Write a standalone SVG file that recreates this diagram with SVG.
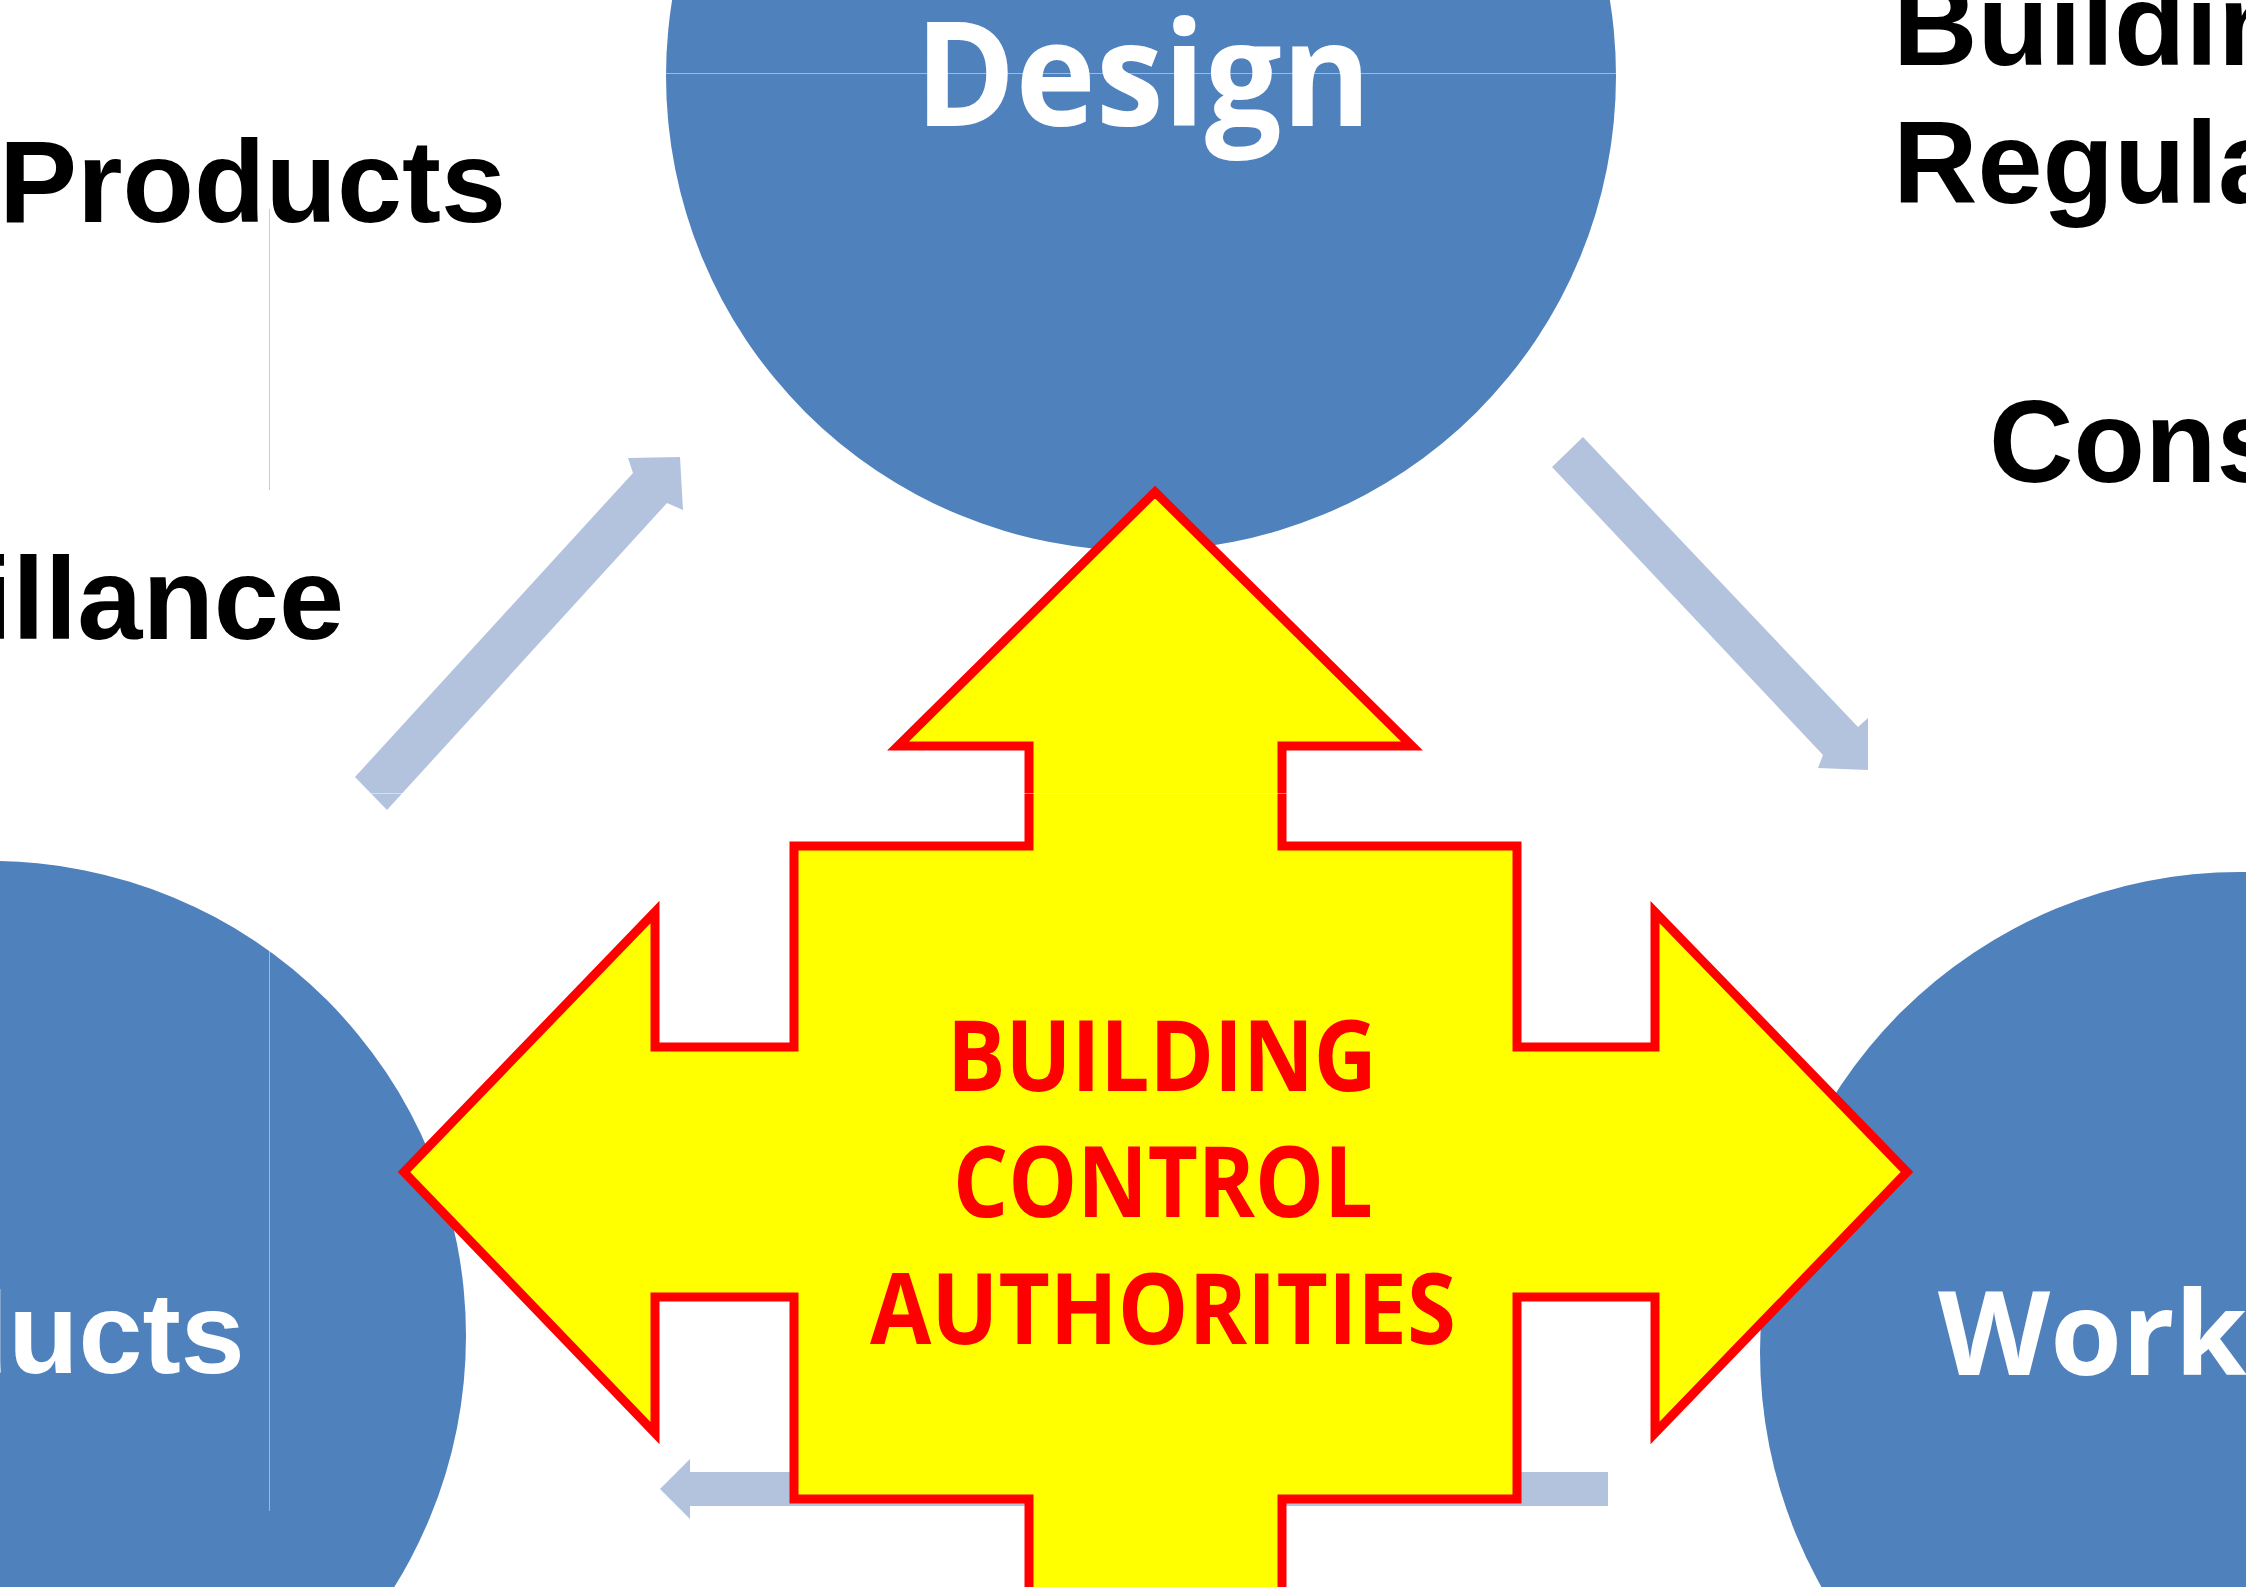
<svg xmlns="http://www.w3.org/2000/svg" width="2246" height="1587" viewBox="0 0 2246 1587">
  <defs>
    <style>
      .node { fill: #4F81BD; }
      .flow { fill: #B3C3DD; }
      .lbl { font-family: "Liberation Sans", Arial, sans-serif; font-weight: bold; font-size: 117px; fill: #000000; }
      .inlbl { font-family: "Open Sans", "Noto Sans", sans-serif; font-weight: bold; fill: #FFFFFF; }
      .inarial { font-family: "Liberation Sans", Arial, sans-serif; font-weight: bold; font-size: 115px; fill: #FFFFFF; }
      .cross { fill: #FFFF00; stroke: #FF0000; stroke-width: 9; stroke-linejoin: miter; stroke-miterlimit: 10; }
      .bca { font-family: "Open Sans", "Noto Sans", sans-serif; font-weight: bold; font-size: 98px; fill: #FF0000; }
      .seam { stroke: #FFFFFF; stroke-opacity: 0.45; stroke-width: 1; }
    </style>
  </defs>

  <rect x="0" y="0" width="2246" height="1587" fill="#FFFFFF"/>

  <g id="node-design">
    <circle class="node" cx="1141" cy="76" r="475"/>
    <text class="inlbl" x="915" y="126" font-size="146" textLength="456" lengthAdjust="spacingAndGlyphs">Design</text>
  </g>

  <g id="node-products">
    <circle class="node" cx="-9" cy="1336" r="475"/>
    <text class="inarial" x="-62" y="1373">ducts</text>
  </g>

  <g id="node-works">
    <circle class="node" cx="2240" cy="1352" r="480"/>
    <text class="inlbl" x="1938" y="1375" font-size="116">Work</text>
  </g>

  <g id="connectors">
    <polygon id="arrow-products-design" class="flow" points="355,777 633,473 628,458 680,457 683,510 667,503 387,810"/>
    <polygon id="arrow-design-works" class="flow" points="1583,437 1858,727 1868,718 1868,770 1818,768 1823,755 1552,467"/>
    <polygon id="arrow-works-products" class="flow" points="1608,1472 690,1472 690,1459 660,1489 690,1519 690,1506 1608,1506"/>
  </g>

  <g id="node-building-control-authorities">
    <polygon class="cross" points="1155,492 1412,746 1282,746 1282,846 1517,846 1517,1047 1655,1047 1655,912 1907,1172 1655,1433 1655,1297 1517,1297 1517,1499 1282,1499 1282,1640 1029,1640 1029,1499 794,1499 794,1297 655,1297 655,1433 404,1172 655,912 655,1047 794,1047 794,846 1029,846 1029,746 898,746"/>
    <text class="bca" x="947" y="1091" textLength="430" lengthAdjust="spacingAndGlyphs">BUILDING</text>
    <text class="bca" x="953" y="1217" textLength="420" lengthAdjust="spacingAndGlyphs">CONTROL</text>
    <text class="bca" x="870" y="1344" textLength="586" lengthAdjust="spacingAndGlyphs">AUTHORITIES</text>
  </g>

  <g id="labels">
    <text class="lbl" x="-1" y="222">Products</text>
    <text class="lbl" x="344" y="639" text-anchor="end">illance</text>
    <text class="lbl" x="1893" y="65">Buildin</text>
    <text class="lbl" x="1893" y="203">Regula</text>
    <text class="lbl" x="1989" y="482">Cons</text>
  </g>

  <g id="seams">
    <line class="seam" x1="0" y1="73.5" x2="2246" y2="73.5"/>
    <line class="seam" x1="0" y1="793.5" x2="2246" y2="793.5"/>
    <line x1="269.5" y1="209" x2="269.5" y2="490" stroke="#D9CBAE" stroke-width="1"/>
    <line class="seam" x1="269.5" y1="950" x2="269.5" y2="1511"/>
  </g>
</svg>
